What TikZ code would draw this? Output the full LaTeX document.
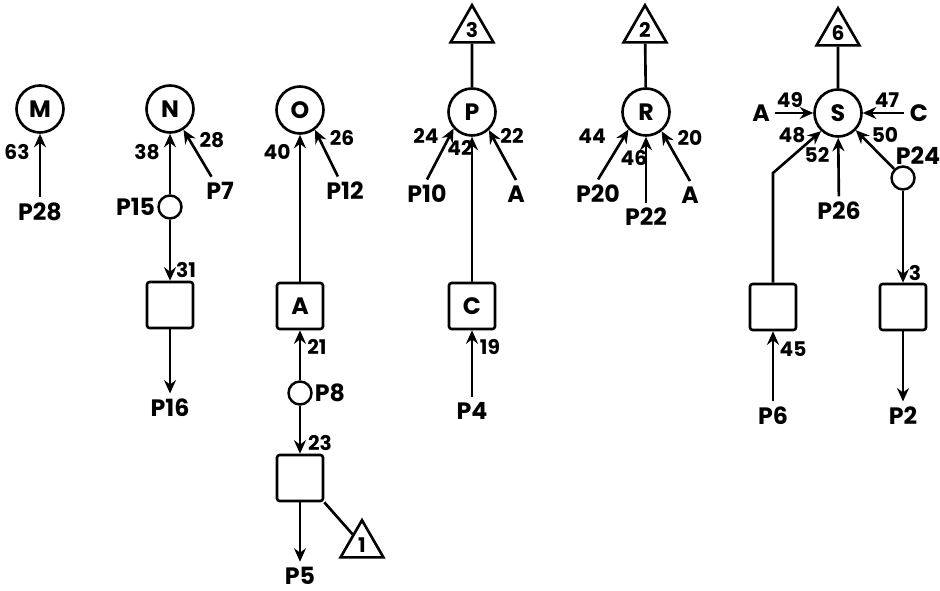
\documentclass[tikz,border=0pt]{standalone}
\usepackage{fontspec}
\setmainfont{Poppins}
\usetikzlibrary{arrows.meta, shapes.geometric}

\newcommand{\biglbl}{\fontsize{13.5}{15}\selectfont\bfseries}
\newcommand{\numlbl}{\fontsize{11.5}{13}\selectfont\bfseries}

\tikzset{
  place/.style={circle, draw, line width=1.5pt, minimum size=0.94cm, inner sep=0pt, font=\biglbl},
  joint/.style={circle, draw, line width=1.4pt, minimum size=0.46cm, inner sep=0pt},
  unit/.style={rectangle, draw, line width=1.5pt, rounded corners=1.5pt, minimum size=0.92cm, inner sep=0pt, font=\biglbl},
  flag/.style={regular polygon, regular polygon sides=3, draw, line width=1.5pt, minimum size=0.99cm, inner sep=0pt, font=\numlbl},
  lbl/.style={inner sep=3pt, font=\biglbl},
  num/.style={inner sep=0pt, font=\numlbl},
  flow/.style={line width=1.5pt, ->},
  link/.style={line width=1.5pt}
}

\begin{document}
\begin{tikzpicture}[x=0.02cm, y=-0.02cm, >={Stealth[length=2.7mm, width=2.4mm, inset=0.9mm]}]

\useasboundingbox (0,0) rectangle (940,591);

% Column M
\node[place] (m) at (40,109) {M};
\node[lbl] (p28) at (40,212) {P28};
\node[num] (l63) at (17,152) {63};
\draw[flow] (p28) -- (m);

% Column N
\node[place] (n) at (170,109) {N};
\node[joint] (j15) at (170,207) {};
\node[lbl, anchor=east, inner sep=1pt] (p15) at (j15.west) {P15};
\node[unit] (bn) at (170,305) {};
\node[lbl] (p16) at (170,408) {P16};
\node[lbl] (p7) at (220,191) {P7};
\node[num] (l38) at (147,152) {38};
\node[num] (l28) at (212,140) {28};
\node[num] (l31) at (186,270) {31};
\draw[flow] (j15) -- (n);
\draw[flow] (p7) -- (n.303);
\draw[flow] (j15) -- (bn);
\draw[flow] (bn) -- (p16);

% Column O
\node[place] (o) at (300,110) {O};
\node[unit] (ba) at (300,306) {A};
\node[joint] (j8) at (300,393) {};
\node[lbl, anchor=west, inner sep=1pt] (p8) at (j8.east) {P8};
\node[unit] (bo) at (300,478) {};
\node[flag] (t1) at (362,545) {1};
\node[lbl] (p5) at (300,576) {P5};
\node[lbl] (p12) at (345,191) {P12};
\node[num] (l40) at (277,152) {40};
\node[num] (l26) at (342,138) {26};
\node[num] (l21) at (317,347) {21};
\node[num] (l23) at (320,443) {23};
\draw[flow] (ba) -- (o);
\draw[flow] (p12) -- (o.307);
\draw[flow] (j8) -- (ba);
\draw[flow] (j8) -- (bo);
\draw[flow] (bo) -- (p5);
\draw[link] (bo.south east) -- (t1);

% Column P
\node[flag] (t3) at (472,30) {3};
\node[place] (p) at (472,112) {P};
\node[unit] (bc) at (472,306) {C};
\node[lbl] (p10) at (427,194) {P10};
\node[lbl] (ap) at (516,194) {A};
\node[lbl] (p4) at (472,411) {P4};
\node[num] (l24) at (426,136) {24};
\node[num] (l42) at (460,148) {42};
\node[num] (l22) at (512,136) {22};
\node[num] (l19) at (490,347) {19};
\draw[link] (t3) -- (p);
\draw[flow] (p10.north) -- (p.222);
\draw[flow] (bc) -- (p);
\draw[flow] (ap.north) -- (p.313);
\draw[flow] (p4) -- (bc);

% Column R
\node[flag] (t2) at (645,30) {2};
\node[place] (r) at (646,112) {R};
\node[lbl] (p20) at (598,194) {P20};
\node[lbl] (p22) at (646,217) {P22};
\node[lbl] (ar) at (690,195) {A};
\node[num] (l44) at (592,136) {44};
\node[num] (l46) at (634,158) {46};
\node[num] (l20) at (690,138) {20};
\draw[link] (t2) -- (r);
\draw[flow] (p20.north) -- (r.225);
\draw[flow] (p22) -- (r);
\draw[flow] (ar.north) -- (r.309);

% Column S
\node[flag] (t6) at (838,33) {6};
\node[place] (s) at (838,113) {S};
\node[lbl] (as) at (761,113) {A};
\node[lbl] (cs) at (919,113) {C};
\node[lbl] (p26) at (839,211) {P26};
\node[joint] (j24) at (903,178) {};
\node[lbl] (p24) at (918,156) {P24};
\node[unit] (bl) at (773,307) {};
\node[unit] (br) at (903,307) {};
\node[lbl] (p6) at (773,416) {P6};
\node[lbl] (p2) at (903,416) {P2};
\coordinate (kink) at (773,173);
\node[num] (l49) at (790,100) {49};
\node[num] (l47) at (887,100) {47};
\node[num] (l48) at (792,135) {48};
\node[num] (l52) at (817,155) {52};
\node[num] (l50) at (885,135) {50};
\node[num] (l3) at (915,273) {3};
\node[num] (l45) at (793,349) {45};
\draw[link] (t6) -- (s);
\draw[flow] (as) -- (s);
\draw[flow] (cs) -- (s);
\draw[flow] (bl) -- (kink) -- (s.227);
\draw[flow] (p26) -- (s);
\draw[flow] (j24) -- (s.316);
\draw[flow] (j24) -- (br);
\draw[flow] (p6) -- (bl);
\draw[flow] (br) -- (p2);

\end{tikzpicture}
\end{document}
